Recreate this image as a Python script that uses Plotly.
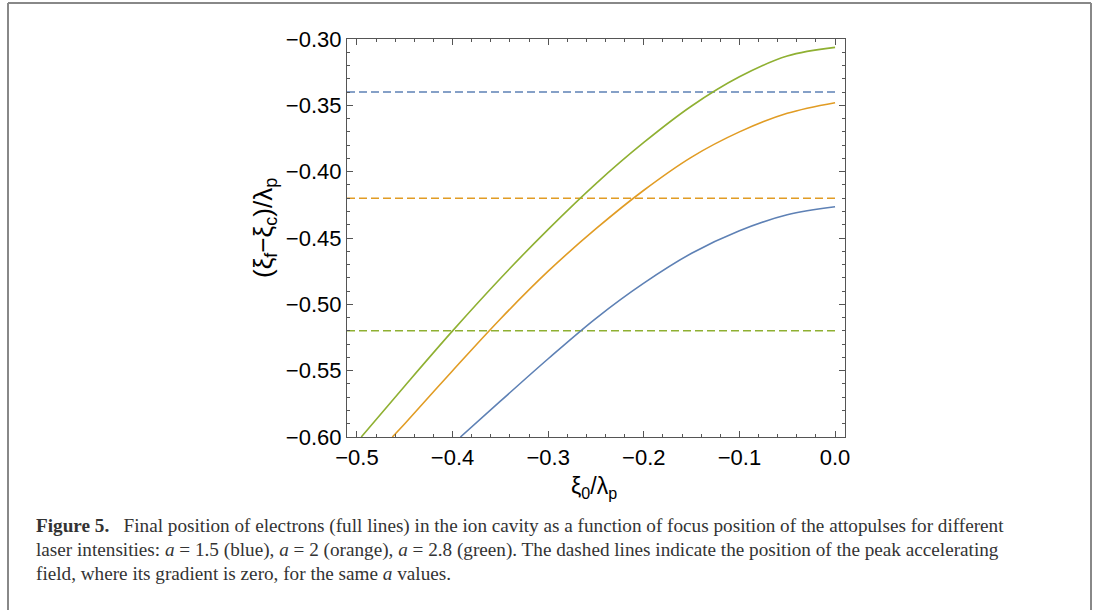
import plotly.graph_objects as go

# ---- data ----
green_x = [-0.4955, -0.45, -0.40, -0.35, -0.30, -0.25, -0.20, -0.15, -0.10, -0.05, 0.0]
green_y = [-0.600, -0.5615, -0.520, -0.4805, -0.4435, -0.409, -0.378, -0.3505, -0.3285, -0.3128, -0.3063]

orange_x = [-0.463, -0.45, -0.40, -0.35, -0.30, -0.25, -0.20, -0.15, -0.10, -0.05, 0.0]
orange_y = [-0.600, -0.590, -0.550, -0.511, -0.475, -0.443, -0.414, -0.389, -0.370, -0.356, -0.348]

blue_x = [-0.3918, -0.35, -0.30, -0.25, -0.20, -0.15, -0.10, -0.05, 0.0]
blue_y = [-0.600, -0.573, -0.541, -0.5105, -0.484, -0.4615, -0.4445, -0.4325, -0.4265]

dashed_levels = {"blue": -0.34, "orange": -0.42, "green": -0.52}
dash_x = [-0.5104, 0.0]

x_ticks = [-0.5, -0.4, -0.3, -0.2, -0.1, 0.0]
y_ticks = [-0.60, -0.55, -0.50, -0.45, -0.40, -0.35, -0.30]
x_range = [-0.5104, 0.0104]
y_range = [-0.60, -0.30]

colors = {"blue": "#5E81B5", "orange": "#E19C24", "green": "#8FB032"}

# ---- figure ----
W, H = 1093, 610
L, R, T, B = 347, 845, 39, 437
fig = go.Figure()

for name in ["blue", "orange", "green"]:
    fig.add_trace(go.Scatter(x=dash_x, y=[dashed_levels[name]] * 2, mode="lines",
                             line=dict(color=colors[name], width=1.5, dash="8px,4px"),
                             showlegend=False, hoverinfo="skip"))

for xs, ys, name in [(blue_x, blue_y, "blue"), (orange_x, orange_y, "orange"), (green_x, green_y, "green")]:
    fig.add_trace(go.Scatter(x=xs, y=ys, mode="lines",
                             line=dict(color=colors[name], width=1.6, shape="spline", smoothing=1.0),
                             showlegend=False))

tickfont = dict(family="Liberation Sans, Arial, sans-serif", size=22, color="black")
axis_common = dict(showgrid=False, zeroline=False, showline=True, linecolor="#555555", linewidth=1.2,
                   mirror="allticks", ticks="inside", ticklen=6, tickwidth=1, tickcolor="#555555",
                   tickfont=tickfont)

fig.update_xaxes(range=x_range, tickvals=x_ticks, tickformat=".1f",
                 minor=dict(ticks="inside", ticklen=3, dtick=0.02, tick0=0, tickcolor="#555555", tickwidth=1),
                 **axis_common)
fig.update_yaxes(range=y_range, tickvals=y_ticks, tickformat=".2f",
                 minor=dict(ticks="inside", ticklen=3, dtick=0.01, tick0=0, tickcolor="#555555", tickwidth=1),
                 **axis_common)

pw, ph = R - L, B - T
def px(x):
    return (x - L) / pw
def py(y):
    return (B - y) / ph

annotations = [
    dict(x=px(594), y=py(487), xref="paper", yref="paper", text="ξ<sub>0</sub>/λ<sub>p</sub>",
         showarrow=False, font=dict(family="Liberation Sans, Arial, sans-serif", size=23, color="black"),
         xanchor="center", yanchor="middle"),
    dict(x=px(264), y=py(228), xref="paper", yref="paper",
         text="(ξ<sub>f</sub>−ξ<sub>c</sub>)/λ<sub>p</sub>", textangle=-90,
         showarrow=False, font=dict(family="Liberation Sans, Arial, sans-serif", size=26, color="black"),
         xanchor="center", yanchor="middle"),
]

cap_font = dict(family="Liberation Serif, DejaVu Serif, serif", size=19.2, color="#333333")
caption = [
    "<b>Figure 5.</b>   Final position of electrons (full lines) in the ion cavity as a function of focus position of the attopulses for different",
    "laser intensities: <i>a</i> = 1.5 (blue), <i>a</i> = 2 (orange), <i>a</i> = 2.8 (green). The dashed lines indicate the position of the peak accelerating",
    "field, where its gradient is zero, for the same <i>a</i> values.",
]
for i, line in enumerate(caption):
    annotations.append(dict(x=px(34), y=py(526 + 23.5 * i), xref="paper", yref="paper", text=line,
                            showarrow=False, font=cap_font, xanchor="left", yanchor="middle", align="left"))

shapes = [
    dict(type="line", xref="paper", yref="paper", x0=px(8), x1=px(8), y0=py(3), y1=py(615),
         line=dict(color="#888888", width=2)),
    dict(type="line", xref="paper", yref="paper", x0=px(8), x1=px(1091), y0=py(3), y1=py(3),
         line=dict(color="#888888", width=2)),
    dict(type="line", xref="paper", yref="paper", x0=px(1091), x1=px(1091), y0=py(3), y1=py(615),
         line=dict(color="#888888", width=2)),
]

fig.update_layout(width=W, height=H, margin=dict(l=L, r=W - R, t=T, b=H - B),
                  paper_bgcolor="white", plot_bgcolor="white",
                  annotations=annotations, shapes=shapes, showlegend=False)

fig.write_html("out.html", config={"displayModeBar": False},
               post_script="document.body.style.margin='0';document.body.style.overflow='hidden';")
